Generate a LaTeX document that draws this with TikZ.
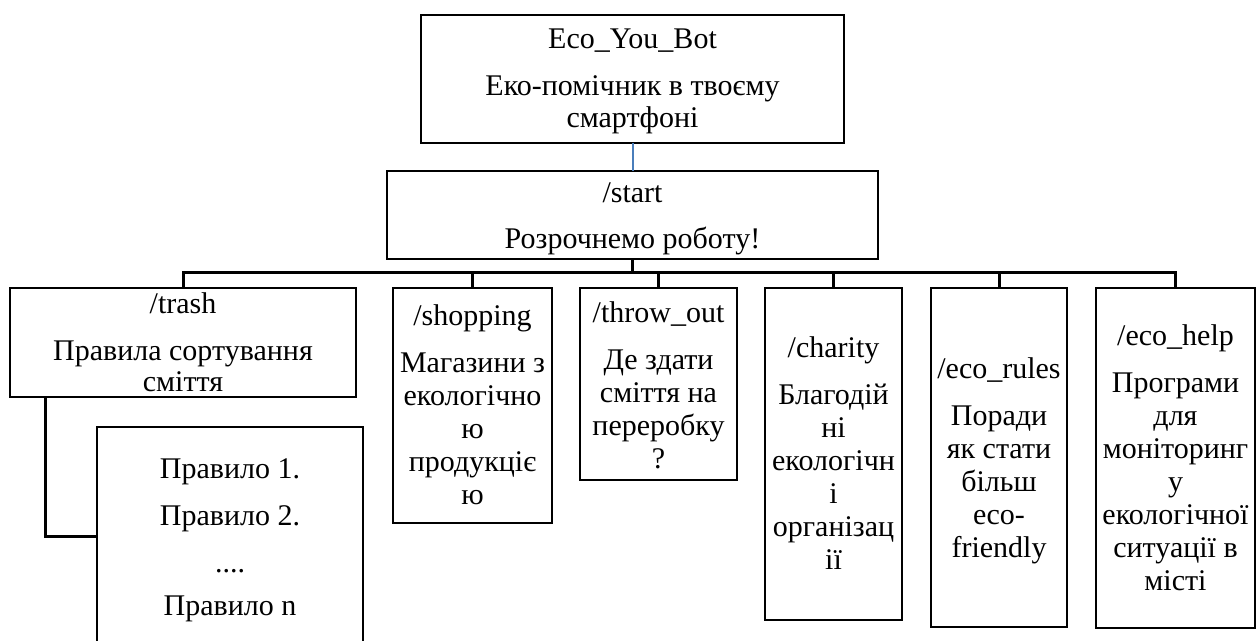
\documentclass[tikz,border=0pt]{standalone}
\usepackage{fontspec}
\setmainfont{Liberation Serif}
\usetikzlibrary{calc}
\definecolor{ecoblue}{RGB}{74,126,187}
\newcommand\ecobox[5]{%
  \node[box, minimum width={(#4-#2)*0.5pt}, minimum height={(#5-#3)*0.5pt}]
    (#1) at ({(#2+#4)/2},{(#3+#5)/2}) {};}
\begin{document}
\begin{tikzpicture}[x=0.5pt,y=-0.5pt,
  box/.style={draw, line width=1.3pt, inner sep=0pt, outer sep=0pt, rectangle},
  txt/.style={align=center, inner sep=0pt, anchor=north, font=\fontsize{15}{16.5}\selectfont},
  link/.style={draw, line width=1.5pt},
  bluelink/.style={draw=ecoblue, line width=1pt}]
\useasboundingbox (0,0) rectangle (1259,641);
\clip (0,0) rectangle (1259,641);
% boxes
\ecobox{top}{421}{15}{844}{143}
\ecobox{start}{387}{171}{878}{259}
\ecobox{trash}{10}{288}{356}{397}
\ecobox{rules}{97}{427}{363}{680}
\ecobox{shopping}{393}{288}{552}{523}
\ecobox{throwout}{580}{288}{737}{480}
\ecobox{charity}{765}{288}{902}{620}
\ecobox{ecorules}{931}{288}{1067}{627}
\ecobox{ecohelp}{1096}{288}{1255}{628}
% texts
\node[txt] (ttop) at (632.5,24.9) {\strut Eco\_You\_Bot\\[7pt] Еко-помічник в твоєму\\[-0.5pt] смартфоні};
\node[txt] (tstart) at (632.5,178.9) {\strut /start\\[6.5pt] Розрочнемо роботу!};
\node[txt] (ttrash) at (183,289.9) {\strut /trash\\[7pt] Правила сортування\\[-1pt] сміття};
\node[txt] (trules) at (230,454.9) {\strut Правило 1.\\[7pt] Правило 2.\\[7pt] ....\\[5pt] Правило n};
\node[txt] (tshopping) at (472.5,301.9) {\strut /shopping\\[7pt] Магазини з\\ екологічно\\ ю\\ продукціє\\ ю};
\node[txt] (tthrowout) at (658.5,298.9) {\strut /throw\_out\\[7pt] Де здати\\ сміття на\\ переробку\\ ?};
\node[txt] (tcharity) at (833.5,333.9) {\strut /charity\\[7pt] Благодій\\ ні\\ екологічн\\ і\\ організац\\ ії};
\node[txt] (tecorules) at (999,354.9) {\strut /eco\_rules\\[7pt] Поради\\ як стати\\ більш\\ eco-\\ friendly};
\node[txt] (tecohelp) at (1175.5,321.9) {\strut /eco\_help\\[7pt] Програми\\ для\\ моніторинг\\ у\\ екологічної\\ ситуації в\\ місті};
% connectors
\draw[bluelink] (top.south) -- (start.north);
\coordinate (bus) at (632.5,273);
\draw[link] (start.south) -- (bus);
\foreach \n in {trash,shopping,throwout,charity,ecorules,ecohelp}
  \draw[link] (\n.north) |- (bus);
\draw[link] ($(trash.south west)+(35,0)$) |- ($(rules.north west)+(0,110)$);
\end{tikzpicture}
\end{document}
